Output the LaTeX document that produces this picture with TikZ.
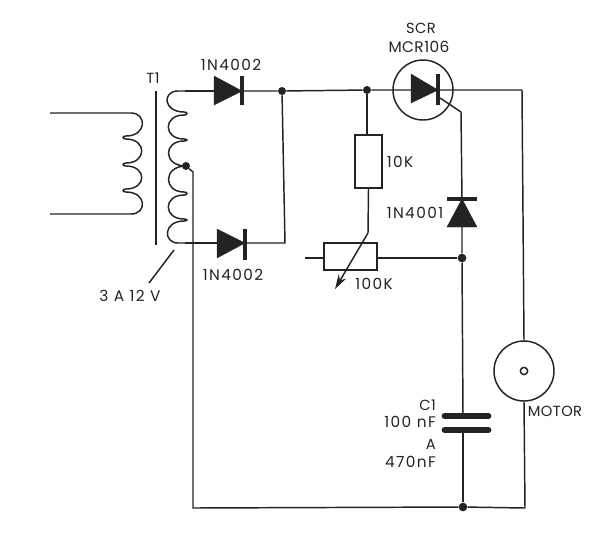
\documentclass[tikz,border=0pt]{standalone}
\usepackage{fontspec}
\usetikzlibrary{arrows.meta}
\setmainfont[LetterSpace=3]{Poppins}
\newfontfamily\numfont[LetterSpace=9]{Poppins}
\definecolor{ink}{HTML}{232323}
\tikzset{
  wire/.style={draw=ink,line width=1.1pt,line join=round},
  dot/.style={circle,fill=ink,draw=none,inner sep=0pt,minimum size=7.5pt},
  resbox/.style={rectangle,draw=ink,line width=1.15pt,fill=none,inner sep=0pt},
  ring/.style={circle,draw=ink,line width=1.1pt,inner sep=0pt,minimum size=45pt},
  lab/.style={text=ink,font=\fontsize{11}{13}\selectfont,inner sep=0pt},
  numlab/.style={text=ink,font=\numfont\fontsize{11.5}{13}\selectfont,inner sep=0pt},
  midlab/.style={text=ink,font=\fontsize{11.5}{13}\selectfont,inner sep=0pt},
  tri/.style={fill=ink,draw=ink,line width=0.3pt,line join=round},
  bar/.style={draw=ink,line width=3pt},
  plate/.style={draw=ink,line width=5.2pt,line cap=round}
}
\begin{document}
\begin{tikzpicture}[x=0.75pt,y=-0.75pt]
\useasboundingbox (0,0) rectangle (600,544);
% nodes
\node[dot,minimum size=6pt] (j1) at (282,91) {};
\node[dot,minimum size=6pt] (j2) at (367,90) {};
\node[dot,minimum size=6pt] (tap) at (186,166) {};
\node[dot,minimum size=6.5pt] (j3) at (462,258) {};
\node[dot,minimum size=6.5pt] (j4) at (463,507) {};
\node[ring] (scr) at (423,90) {};
\node[ring] (motor) at (524,371) {};
\node[circle,draw=ink,line width=1.1pt,minimum size=5.5pt,inner sep=0pt] (shaft) at (524,371) {};
\node[resbox,minimum width=20.2pt,minimum height=39.7pt] (r1) at (368.5,161.5) {};
\node[resbox,minimum width=39.7pt,minimum height=20.2pt] (pot) at (350.5,256.5) {};
\coordinate (sec1) at (185,91);
\coordinate (sec2) at (185,243);
\coordinate (d1a) at (214,91);
\coordinate (d1k) at (242,91);
\coordinate (d2a) at (217,243);
\coordinate (d2k) at (245,243);
\coordinate (d3k) at (462,199);
\coordinate (d3a) at (462,227);
\coordinate (gate) at (440,98);
\coordinate (gbend) at (461,112);
\coordinate (potin) at (305,258);
\coordinate (corner1) at (522,90);
\coordinate (corner2) at (525,508);
\coordinate (corner3) at (193,508);
\coordinate (corner4) at (285,243);
\coordinate (tapb) at (193,172);
\coordinate (wbase) at (368,233);
\coordinate (wtip) at (335,289);
\coordinate (c1t) at (463,416);
\coordinate (c1b) at (463,430);
% core
\draw[wire] (156,91) -- (156,245);
% primary
\draw[wire] (50,113) -- (131,113)
  .. controls (147,113) and (147,136) .. (126,136)
  .. controls (122,136) and (122,139) .. (126,139)
  .. controls (147,139) and (147,163) .. (126,163)
  .. controls (122,163) and (122,166) .. (126,166)
  .. controls (147,166) and (147,189) .. (126,189)
  .. controls (122,189) and (122,192) .. (126,192)
  .. controls (147,192) and (147,214) .. (131,214)
  -- (50,214);
% secondary
\draw[wire] (sec1) -- (178,91)
  .. controls (162,91) and (163,112) .. (184,112)
  .. controls (188,112) and (188,115) .. (184,115)
  .. controls (163,115) and (163,139) .. (184,139)
  .. controls (188,139) and (188,141) .. (184,141)
  .. controls (163,141) and (163,166) .. (tap.center)
  .. controls (163,166) and (163,192) .. (184,192)
  .. controls (188,192) and (188,195) .. (184,195)
  .. controls (163,195) and (163,219) .. (184,219)
  .. controls (188,219) and (188,221) .. (184,221)
  .. controls (163,221) and (163,243) .. (178,243)
  -- (sec2);
% wires
\draw[wire] (sec1) -- (d1a);
\draw[wire] (d1k) -- (j1) -- (j2) -- (scr.center);
\draw[wire] (sec2) -- (d2a);
\draw[wire] (d2k) -- (corner4) -- (j1);
\draw[wire] (tap) -- (tapb) -- (corner3) -- (j4) -- (corner2) -- (motor.south);
\draw[wire] (scr.center) -- (scr.east) -- (corner1) -- (motor.north);
\draw[wire] (j2) -- (r1.north -| j2);
\draw[wire] (r1.south) -- (wbase);
\draw[wire] (potin) -- (pot.west |- potin);
\draw[wire] (pot.east |- j3) -- (j3);
\draw[wire] (gate) -- (gbend) -- (d3k);
\draw[wire] (d3a) -- (j3) -- (c1t);
\draw[wire] (c1b) -- (j4);
% wiper arrow
\draw[wire,-{Stealth[length=11pt,width=6.5pt]}] (wbase) -- (wtip);
% diodes
\fill[tri] (d1a |- 0,76) -- (d1k) -- (d1a |- 0,105) -- cycle;
\draw[bar] (d1k |- 0,76) -- (d1k |- 0,105);
\fill[tri] (d2a |- 0,229) -- (d2k) -- (d2a |- 0,258) -- cycle;
\draw[bar] (d2k |- 0,229) -- (d2k |- 0,260);
\fill[tri] (411,74) -- (438,90) -- (411,103) -- cycle;
\draw[bar] (438,74) -- (438,105);
\fill[tri] (447,227) -- (d3k) -- (477,227) -- cycle;
\draw[bar] (447,199) -- (477,199);
% capacitor
\draw[plate] (445,416) -- (488,416);
\draw[plate] (445,430) -- (488,430);
% leader
\draw[wire] (174,250) -- (149,283);
% labels
\node[lab] (t1) at (153,78) {T1};
\node[numlab] (l1) at (231,65) {1N4002};
\node[numlab] (l2) at (233,275) {1N4002};
\node[numlab] (l3) at (130,296) {3 A 12 V};
\node[lab] (l4) at (421,28) {SCR};
\node[midlab] (l5) at (419,47) {MCR106};
\node[numlab] (l6) at (400,162) {10K};
\node[numlab] (l7) at (415,213) {1N4001};
\node[numlab] (l8) at (374,284) {100K};
\node[lab,anchor=east] (l9) at (436,405) {C1};
\node[numlab,anchor=east] (l10) at (436,422) {100 nF};
\node[lab,anchor=east] (l11) at (436,444) {A};
\node[numlab,anchor=east] (l12) at (436,462) {470nF};
\node[lab] (l13) at (555,411) {MOTOR};
\end{tikzpicture}
\end{document}
